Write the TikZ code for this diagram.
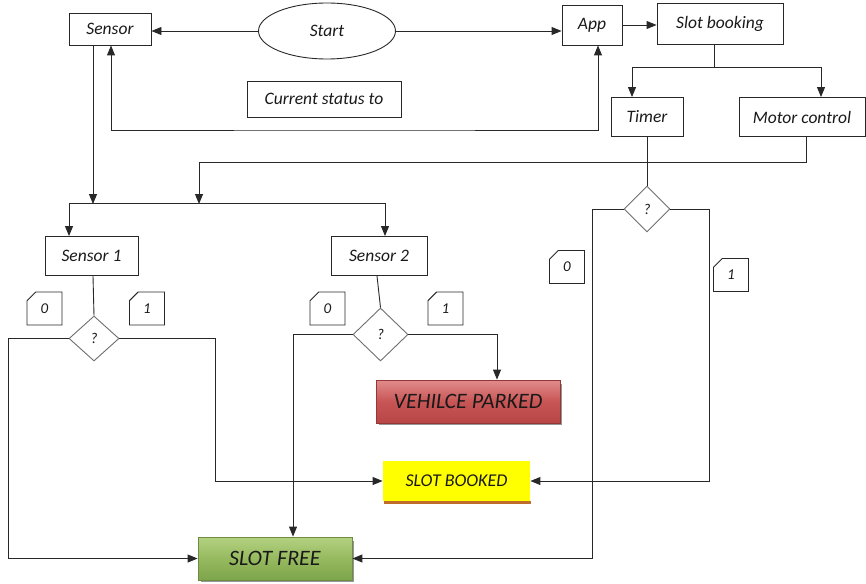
\documentclass[tikz,border=0pt]{standalone}
\usepackage{fontspec}
\setmainfont{Carlito}
\usetikzlibrary{arrows.meta,shapes.geometric,shapes.misc}
\definecolor{ln}{RGB}{40,40,40}
\definecolor{dg}{RGB}{110,110,110}
\definecolor{redT}{RGB}{225,140,140}
\definecolor{redM}{RGB}{200,85,85}
\definecolor{redB}{RGB}{185,70,70}
\definecolor{redD}{RGB}{150,55,55}
\definecolor{grT}{RGB}{180,210,130}
\definecolor{grM}{RGB}{150,185,95}
\definecolor{grB}{RGB}{125,165,75}
\definecolor{grD}{RGB}{110,140,65}
\definecolor{yel}{RGB}{255,255,0}
\definecolor{yelD}{RGB}{190,110,40}
\definecolor{shd}{RGB}{150,150,150}
\tikzset{
  base/.style={font=\fontsize{17.5}{20}\selectfont\itshape, text=black!90, inner sep=0pt},
  box/.style={base, draw=ln, line width=0.9pt, rectangle},
  dia/.style={base, draw=dg, line width=0.9pt, diamond, minimum width=50pt, minimum height=45pt, font=\fontsize{15}{17}\selectfont\itshape},
  tagbox/.style={base, draw=ln, line width=0.9pt, chamfered rectangle, chamfered rectangle corners=north west, chamfered rectangle xsep=6pt, chamfered rectangle ysep=6pt, minimum width=35pt, minimum height=33pt, font=\fontsize{15}{17}\selectfont\itshape},
  conn/.style={draw=ln, line width=0.9pt},
  arr/.style={conn, -{Triangle[length=10pt,width=8pt]}},
  darr/.style={conn, {Triangle[length=10pt,width=8pt]}-{Triangle[length=10pt,width=8pt]}},
  result/.style={base, rectangle, line width=0.8pt, font=\fontsize{22}{24}\selectfont\itshape}
}
\begin{document}
\begin{tikzpicture}[x=1pt,y=-1pt]
\useasboundingbox (0,0) rectangle (866,583);
% top row
\node[box, minimum width=82pt, minimum height=32pt] (sensor) at (110,29) {Sensor};
\node[base, draw=ln, line width=0.9pt, ellipse, minimum width=137pt, minimum height=56pt] (start) at (327,31) {Start};
\node[box, minimum width=60pt, minimum height=40pt] (app) at (592,25) {App};
\node[box, minimum width=126pt, minimum height=41pt] (slot) at (720,24) {Slot booking};
\node[box, minimum width=154pt, minimum height=36pt] (status) at (324,99) {Current status to};
\node[box, minimum width=72pt, minimum height=39pt] (timer) at (647,117) {Timer};
\node[box, minimum width=126pt, minimum height=39pt] (motor) at (802,117) {Motor control};
% sensors
\node[box, minimum width=93pt, minimum height=39pt] (s1) at (91.5,256) {Sensor 1};
\node[box, minimum width=96pt, minimum height=39pt] (s2) at (379,256) {Sensor 2};
% diamonds
\node[dia] (d1) at (94,338.5) {?};
\node[dia, minimum width=55pt, minimum height=53pt] (d2) at (380.5,334.5) {?};
\node[dia, minimum width=46pt, minimum height=46pt] (d3) at (647,209) {?};
% tags
\node[tagbox] (t1a) at (44.5,308.5) {0};
\node[tagbox] (t1b) at (147,308.5) {1};
\node[tagbox] (t2a) at (327.5,308.5) {0};
\node[tagbox] (t2b) at (445.5,308.5) {1};
\node[tagbox] (t3a) at (567,267) {0};
\node[tagbox] (t3b) at (731,275) {1};
% results
\fill[shd] (379,384) rectangle (562,425);
\node[result, draw=redD, top color=redT, bottom color=redB, middle color=redM, minimum width=184pt, minimum height=43pt] (parked) at (468,401.5) {VEHILCE PARKED};
\fill[yelD] (384,501) rectangle (531,504);
\node[result, fill=yel, minimum width=147pt, minimum height=40pt, font=\fontsize{18}{20}\selectfont\itshape] (booked) at (456.5,481) {SLOT BOOKED};
\fill[shd] (201,541) rectangle (354,582);
\node[result, draw=grD, top color=grT, bottom color=grB, middle color=grM, minimum width=154pt, minimum height=43pt] (free) at (275,558.5) {SLOT FREE};
% connectors top
\draw[arr] (start.west) -- (start.west -| sensor.east);
\draw[arr] (start.east) -- (start.east -| app.west);
\draw[arr] (app.east) -- (app.east -| slot.west);
\coordinate (fb) at (354,130);
\draw[darr] ([xshift=1pt]sensor.south) |- (fb) -| ([xshift=6pt]app.south);
\coordinate (sb) at (714,67);
\draw[conn] ([xshift=-6pt]slot.south) -- (sb);
\draw[arr] (sb) -| ([xshift=-15pt]timer.north);
\draw[arr] (sb) -| ([xshift=19pt]motor.north);
\coordinate (j) at (199,203);
\draw[arr] ([xshift=4pt]motor.south) |- (199,162) -- ([yshift=-1pt]j);
\draw[arr] ([xshift=-17pt]sensor.south) -- ([xshift=-17pt,yshift=-1pt]sensor.south |- j);
\draw[arr] (j) -| ([xshift=-22.5pt]s1.north);
\draw[arr] (j) -| ([xshift=6pt]s2.north);
% sensor to diamonds
\draw[conn] ([xshift=1.5pt]s1.south) -- (d1.north);
\draw[conn] ([xshift=-2pt]s2.south) -- (d2.north);
\draw[conn] (timer.south) -- (d3.north);
% diamond 1
\draw[arr] (d1.west) -- ++(-60,0) |- (free.west);
\draw[arr] (d1.east) -- ++(96,0) |- (booked.west);
% diamond 2
\draw[arr] (d2.west) -| ([xshift=18pt]free.north);
\draw[arr] (d2.east) -| ([xshift=29pt]parked.north);
% diamond 3
\draw[arr] (d3.west) -- ++(-31,0) |- (free.east);
\draw[arr] (d3.east) -- ++(39,0) |- (booked.east);
\end{tikzpicture}
\end{document}
